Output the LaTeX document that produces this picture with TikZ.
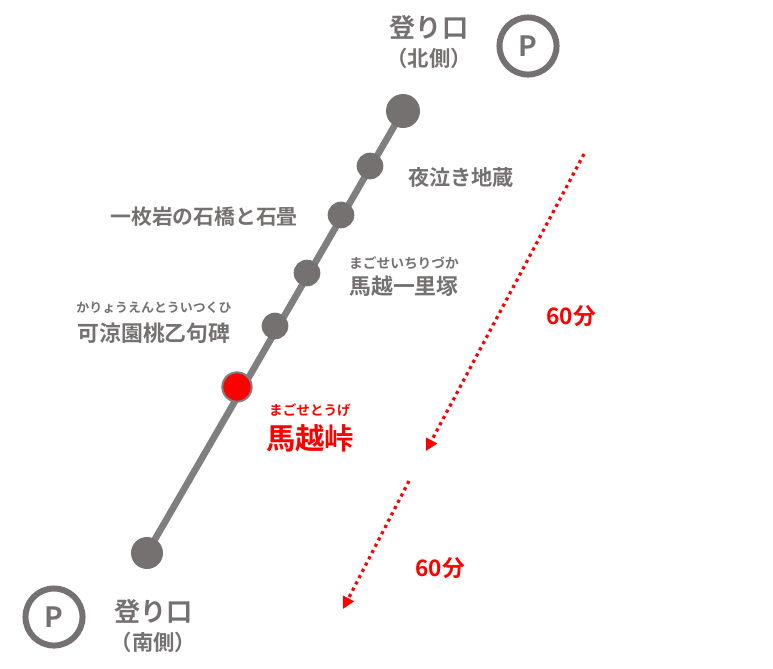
\documentclass[tikz,border=0pt]{standalone}
\usepackage{fontspec}
\setmainfont{Noto Sans CJK JP}[BoldFont={Noto Sans CJK JP Bold}]
\usetikzlibrary{arrows.meta}
\usetikzlibrary{backgrounds}
\definecolor{stopgray}{HTML}{767171}
\definecolor{linegray}{HTML}{7F7F7F}
\tikzset{
	stopbig/.style={circle, fill=stopgray, inner sep=0pt, minimum size=25.5pt},
	stopsmall/.style={circle, fill=stopgray, inner sep=0pt, minimum size=20pt},
	stopred/.style={circle, fill=red, draw=linegray, line width=1.5pt, inner sep=0pt, minimum size=22pt},
	parking/.style={circle, draw=stopgray, line width=4.5pt, inner sep=0pt, minimum size=42.8pt, text=stopgray, font=\bfseries\fontsize{21}{21}\selectfont},
	label/.style={text=stopgray, font=\bfseries\fontsize{#1}{#1}\selectfont, inner sep=0pt},
	labelred/.style={text=red, font=\bfseries\fontsize{#1}{#1}\selectfont, inner sep=0pt},
	walk/.style={red, line width=2.4pt, dash pattern=on 2.4pt off 2.9pt, -{Triangle[length=9pt,width=9pt]}}
}
\begin{document}
\begin{tikzpicture}[x=0.75pt,y=-0.75pt]
	\useasboundingbox (0,0) rectangle (773,668);
	% route
	\node[stopbig] (north) at (403,111){};
	\node[stopsmall] (yonaki) at (370,166){};
	\node[stopsmall] (ishibashi) at (341,215){};
	\node[stopsmall] (ichirizuka) at (307,273){};
	\node[stopsmall] (kuhi) at (275,326){};
	\node[stopred] (toge) at (237,387){};
	\node[stopbig, minimum size=24pt] (south) at (147,553){};
	\begin{scope}[on background layer]
		\draw[linegray, line width=5pt] (north.center) -- (south.center);
	\end{scope}
	% parking
	\node[parking] (pnorth) at (528,46){P};
	\node[parking] (psouth) at (54,617){P};
	% labels
	\node[label=19.6] (tnorth) at (429,27){登り口};
	\node[label=16] (tnorth2) at (429,58){（北側）};
	\node[label=19.6] (tsouth) at (153.5,611){登り口};
	\node[label=16] (tsouth2) at (153.5,642){（南側）};
	\node[label=15.9] (tyonaki) at (461,177){夜泣き地蔵};
	\node[label=15.6] (tishi) at (204,217){一枚岩の石橋と石畳};
	\node[label=10.3] (rich) at (404,263){まごせいちりづか};
	\node[label=16.4] (tich) at (404,286){馬越一里塚};
	\node[label=9.7] (rkuhi) at (154,308){かりょうえんとういつくひ};
	\node[label=16.4] (tkuhi) at (154,333){可涼園桃乙句碑};
	\node[labelred=10.2] (rtoge) at (310,410){まごせとうげ};
	\node[labelred=22] (ttoge) at (310,438){馬越峠};
	\node[labelred=17] (tupper) at (571,316){60分};
	\node[labelred=17] (tlower) at (440,568){60分};
	% walking times
	\coordinate (a) at (584,154);
	\coordinate (b) at (426,451);
	\coordinate (c) at (409,481);
	\coordinate (d) at (343,609);
	\draw[walk] (a) -- (b);
	\draw[walk] (c) -- (d);
\end{tikzpicture}
\end{document}
